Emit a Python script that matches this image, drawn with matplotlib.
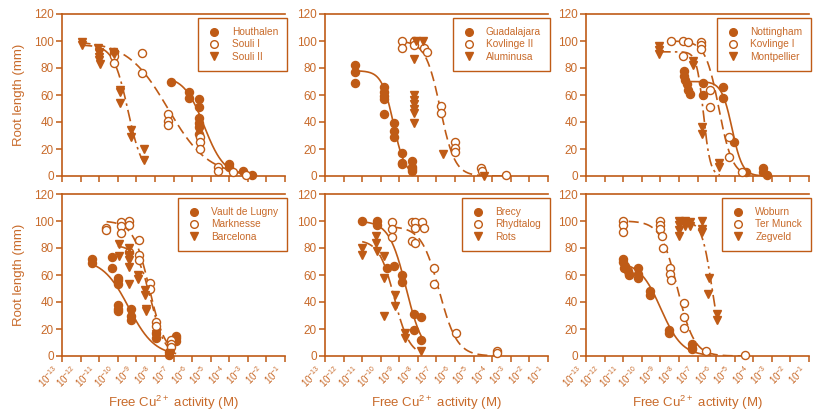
import numpy as np
import matplotlib.pyplot as plt
from matplotlib.lines import Line2D
from matplotlib.ticker import NullLocator

plt.rcParams['font.family'] = ['Liberation Sans', 'DejaVu Sans']
plt.rcParams['mathtext.fontset'] = 'custom'
plt.rcParams['mathtext.rm'] = 'Liberation Sans'
plt.rcParams['mathtext.it'] = 'Liberation Sans:italic'
plt.rcParams['mathtext.bf'] = 'Liberation Sans:bold'

c_mark = '#BF5B16'
c_text = '#C86A2A'

# x values are log10 of free Cu2+ activity (M), y values are root length (mm)
# panel 1
houthalen_x = [-7.14, -6.15, -6.15, -5.65, -5.65, -5.65, -5.65, -5.65, -5.65, -4.0, -4.0, -3.27, -2.8]
houthalen_y = [70, 62, 58, 57, 51, 43, 39, 36, 31, 9, 7, 4, 1]
souli1_x = [-10.2, -10.2, -10.2, -8.7, -8.7, -7.27, -7.27, -7.27, -5.6, -5.6, -5.6, -4.6, -4.6, -3.8, -3.1]
souli1_y = [92, 89, 84, 91, 76, 46, 41, 38, 29, 25, 20, 7, 4, 3, 1]
souli2_x = [-11.95, -11.95, -11.05, -11.0, -11.0, -11.0, -10.95, -11.0, -10.25, -10.2, -9.9, -9.9, -9.9, -9.3, -9.3, -8.6, -8.6]
souli2_y = [99, 97, 95, 92, 88, 86, 83, 91, 92, 90, 64, 62, 54, 34, 29, 20, 12]

# panel 2
guadalajara_x = [-11.38, -11.38, -11.38, -9.8, -9.8, -9.8, -9.8, -9.8, -9.3, -9.3, -9.3, -8.85, -8.85, -8.85, -8.3, -8.3, -8.3, -8.3]
guadalajara_y = [82, 77, 69, 66, 62, 59, 57, 46, 39, 33, 29, 17, 10, 9, 11, 7, 5, 4]
kovlinge2_x = [-8.85, -8.85, -8.2, -8.2, -7.68, -7.5, -6.75, -6.75, -6.0, -6.0, -6.0, -4.6, -4.55, -3.27]
kovlinge2_y = [100, 95, 100, 97, 95, 92, 52, 47, 25, 21, 18, 6, 4, 1]
aluminusa_x = [-8.1, -7.75, -8.2, -8.2, -8.2, -8.2, -8.2, -8.2, -8.2, -6.64, -4.44]
aluminusa_y = [100, 100, 87, 60, 56, 53, 50, 47, 39, 16, 0]

# panel 3
nottingham_x = [-7.7, -7.7, -7.65, -7.55, -7.5, -7.4, -6.72, -6.72, -5.64, -5.64, -5.03, -4.38, -3.47, -3.47, -3.26]
nottingham_y = [78, 74, 71, 68, 64, 61, 69, 60, 66, 58, 25, 3, 6, 3, 1]
kovlinge1_x = [-8.4, -7.8, -7.5, -7.77, -6.83, -6.83, -6.83, -6.32, -6.32, -5.33, -5.33, -4.6]
kovlinge1_y = [100, 100, 99, 89, 99, 97, 94, 64, 51, 29, 14, 3]
montpellier_x = [-9.07, -9.07, -9.07, -7.23, -7.23, -6.77, -6.77, -5.82, -5.82]
montpellier_y = [96, 93, 90, 85, 82, 36, 31, 10, 7]

# panel 4
vault_x = [-11.41, -11.41, -10.3, -10.3, -9.96, -9.96, -9.96, -10.0, -10.0, -10.0, -9.3, -9.3, -9.3, -7.92, -7.92, -7.23, -7.23, -6.84, -6.84, -6.84]
vault_y = [72, 69, 73, 65, 58, 56, 53, 38, 35, 33, 35, 30, 27, 17, 13, 3, 1, 15, 13, 11]
marknesse_x = [-10.65, -10.65, -9.84, -9.84, -9.84, -9.38, -9.38, -9.38, -8.85, -8.85, -8.85, -8.28, -8.28, -7.92, -7.92, -7.14, -7.14, -7.14]
marknesse_y = [95, 93, 99, 96, 91, 100, 97, 77, 86, 75, 71, 54, 50, 25, 22, 12, 9, 7]
barcelona_x = [-9.94, -9.94, -9.38, -9.38, -9.38, -9.38, -9.38, -8.9, -8.9, -8.53, -8.53, -8.5, -8.5, -7.92, -7.92, -7.2, -7.2]
barcelona_y = [83, 74, 80, 75, 71, 66, 53, 60, 57, 49, 45, 35, 33, 16, 13, 2, 1]

# panel 5
brecy_x = [-11.0, -10.2, -10.2, -9.65, -9.3, -8.85, -8.85, -8.23, -7.86, -8.23, -7.86]
brecy_y = [100, 100, 97, 65, 67, 60, 55, 31, 29, 19, 12]
rhydtalog_x = [-9.4, -9.4, -9.4, -8.32, -8.14, -7.77, -8.14, -7.68, -8.32, -8.14, -7.14, -7.14, -5.97, -3.72, -3.72]
rhydtalog_y = [99, 94, 88, 99, 99, 99, 95, 95, 85, 84, 65, 53, 17, 4, 2]
rots_x = [-11.0, -11.0, -10.28, -10.28, -10.2, -9.85, -9.85, -9.85, -9.22, -9.22, -8.71, -8.68, -7.86]
rots_y = [80, 75, 89, 84, 78, 74, 58, 30, 45, 37, 17, 13, 4]

# panel 6
woburn_x = [-11.02, -11.02, -10.9, -10.95, -10.72, -10.7, -10.7, -10.18, -10.18, -10.18, -9.55, -9.55, -8.56, -8.52, -7.3, -7.3, -7.27]
woburn_y = [72, 70, 67, 65, 63, 61, 60, 65, 61, 58, 48, 45, 19, 17, 9, 6, 5]
termunck_x = [-11.02, -11.02, -11.02, -9.0, -9.0, -9.0, -8.93, -8.83, -8.47, -8.47, -8.45, -7.75, -7.75, -7.75, -6.53, -4.47]
termunck_y = [100, 97, 92, 100, 97, 94, 89, 80, 65, 61, 56, 39, 29, 21, 4, 1]
zegveld_x = [-8.02, -8.02, -7.98, -8.0, -7.66, -7.66, -7.66, -7.4, -7.4, -6.76, -6.78, -6.77, -6.4, -6.42, -5.95, -5.95]
zegveld_y = [100, 97, 93, 89, 100, 98, 96, 99, 96, 100, 94, 92, 58, 46, 31, 27]

# fitted dose-response curves: (top, log EC50, slope, log x start, log x end)
houthalen_fit = (74, -5.35, 0.8, -7.14, -2.8)
souli1_fit = (100, -7.3, 0.4, -12.0, -3.0)
souli2_fit = (97, -9.45, 1.1, -12.0, -8.6)
guadalajara_fit = (78, -9.32, 1.38, -11.38, -8.2)
kovlinge2_fit = (100, -6.8, 1.1, -8.85, -3.3)
nottingham_fit = (70, -5.14, 1.55, -7.7, -3.3)
kovlinge1_fit = (100, -5.85, 1.2, -8.4, -4.6)
montpellier_fit = (92, -6.68, 2.36, -9.07, -5.8)
vault_fit = (72, -9.41, 0.62, -11.41, -6.9)
marknesse_fit = (100, -8.3, 1.0, -10.6, -7.1)
barcelona_fit = (82, -8.21, 1.15, -10.0, -7.2)
brecy_fit = (100, -8.63, 0.944, -11.0, -7.8)
rhydtalog_fit = (96, -6.85, 0.9, -9.4, -3.7)
rots_fit = (86, -9.27, 1.05, -11.0, -8.0)
woburn_fit = (70, -8.97, 0.756, -11.02, -6.3)
termunck_fit = (100, -8.08, 0.96, -10.7, -4.5)
zegveld_fit = (100, -6.22, 1.6, -8.02, -5.95)

panels = [
    [('Houthalen', houthalen_x, houthalen_y, houthalen_fit),
     ('Souli I', souli1_x, souli1_y, souli1_fit),
     ('Souli II', souli2_x, souli2_y, souli2_fit)],
    [('Guadalajara', guadalajara_x, guadalajara_y, guadalajara_fit),
     ('Kovlinge II', kovlinge2_x, kovlinge2_y, kovlinge2_fit),
     ('Aluminusa', aluminusa_x, aluminusa_y, None)],
    [('Nottingham', nottingham_x, nottingham_y, nottingham_fit),
     ('Kovlinge I', kovlinge1_x, kovlinge1_y, kovlinge1_fit),
     ('Montpellier', montpellier_x, montpellier_y, montpellier_fit)],
    [('Vault de Lugny', vault_x, vault_y, vault_fit),
     ('Marknesse', marknesse_x, marknesse_y, marknesse_fit),
     ('Barcelona', barcelona_x, barcelona_y, barcelona_fit)],
    [('Brecy', brecy_x, brecy_y, brecy_fit),
     ('Rhydtalog', rhydtalog_x, rhydtalog_y, rhydtalog_fit),
     ('Rots', rots_x, rots_y, rots_fit)],
    [('Woburn', woburn_x, woburn_y, woburn_fit),
     ('Ter Munck', termunck_x, termunck_y, termunck_fit),
     ('Zegveld', zegveld_x, zegveld_y, zegveld_fit)],
]

y_ticks = [0, 20, 40, 60, 80, 100, 120]
x_exponents = list(range(-13, 0))

markers = [dict(marker='o', mfc=c_mark), dict(marker='o', mfc='white'), dict(marker='v', mfc=c_mark)]
styles = ['-', (0, (6, 3)), (0, (7, 2.5, 1.5, 2.5))]

W, H = 817, 412
fig = plt.figure(figsize=(W / 100, H / 100), dpi=100)
lefts = [62, 325, 586]
bottoms = [176, 356]
pw, ph = 223, 162

for i, series in enumerate(panels):
    row, col = divmod(i, 3)
    ax = fig.add_axes([lefts[col] / W, 1 - bottoms[row] / H, pw / W, ph / H])
    handles = []
    for k, (name, xs, ys, fit) in enumerate(series):
        if fit is not None:
            top, ec50, slope, x0, x1 = fit
            xl = np.linspace(x0, x1, 200)
            yl = top / (1 + 10 ** (slope * (xl - ec50)))
            ax.plot(10 ** xl, yl, color=c_mark, lw=1.2, ls=styles[k], zorder=2)
        m = markers[k]
        ax.plot(10 ** np.array(xs), ys, ls='none', marker=m['marker'], mfc=m['mfc'],
                mec=c_mark, mew=1.0, ms=5.8, zorder=3, clip_on=False)
        handles.append(Line2D([], [], ls='none', marker=m['marker'], mfc=m['mfc'],
                              mec=c_mark, mew=1.0, ms=5.5))
    leg = ax.legend(handles, [s[0] for s in series], loc='upper right',
                    bbox_to_anchor=(1.01, 0.975), borderaxespad=0, fontsize=7.3,
                    labelcolor=c_text, fancybox=False, edgecolor=c_mark,
                    borderpad=0.9, labelspacing=0.22, handletextpad=1.0,
                    handlelength=1.4, framealpha=1)
    leg.get_frame().set_linewidth(1.0)

    ax.set_xscale('log')
    ax.set_xlim(1e-13, 1e-1)
    ax.set_xticks([10.0 ** e for e in x_exponents])
    ax.xaxis.set_minor_locator(NullLocator())
    ax.set_ylim(0, 120)
    ax.set_yticks(y_ticks)
    for s in ['left', 'bottom', 'top']:
        ax.spines[s].set_color(c_mark)
        ax.spines[s].set_linewidth(1.2)
    ax.spines['right'].set_visible(False)
    ax.tick_params(direction='out', length=4, width=1.1, color=c_mark,
                   labelcolor=c_text, labelsize=8.5, pad=2)
    ax.tick_params(axis='x', labelsize=7, pad=1)
    if row == 0:
        ax.tick_params(axis='x', labelbottom=False)
    else:
        plt.setp(ax.get_xticklabels(), rotation=45, ha='right')
        ax.set_xlabel('Free Cu$^{2+}$ activity (M)', fontsize=9.5, color=c_text, labelpad=3)
    if col == 0:
        ax.set_ylabel('Root length (mm)', fontsize=9.5, color=c_text, labelpad=6)

fig.savefig('out.png', dpi=100)
